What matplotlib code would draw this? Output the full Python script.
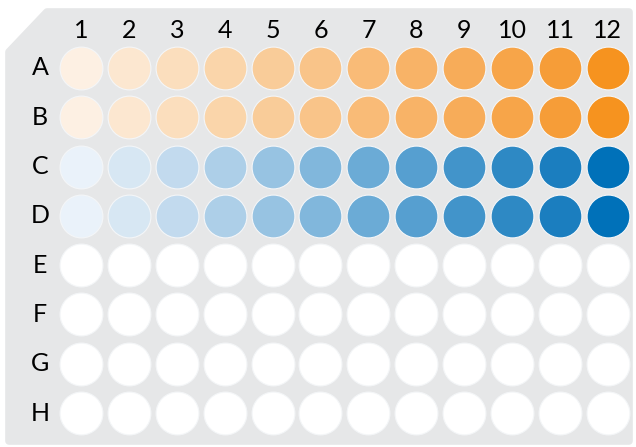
import matplotlib.pyplot as plt
from matplotlib.patches import Polygon

# plate layout
rows = ['A', 'B', 'C', 'D', 'E', 'F', 'G', 'H']
cols = list(range(1, 13))

# dilution series colours, column 1 -> 12
orange_series = ['#FDF0E3', '#FCE7D0', '#FBDEBD', '#FAD5AA', '#F9CC99', '#F9C489',
                 '#F9BB77', '#F8B367', '#F7AC59', '#F7A549', '#F69D38', '#F6931F']
blue_series = ['#EAF2FA', '#D7E7F3', '#C2DAEE', '#ADCFE8', '#97C3E2', '#81B7DC',
               '#6BABD6', '#569FD0', '#4294CA', '#2E89C4', '#1B7EBF', '#0071B9']
empty_color = '#FFFFFF'

# which series each row holds
row_series = {'A': orange_series, 'B': orange_series,
              'C': blue_series, 'D': blue_series}

fig = plt.figure(figsize=(6.36, 4.47), dpi=100)
ax = fig.add_axes([0, 0, 1, 1])
ax.set_xlim(-0.691, 12.587)
ax.set_ylim(7.688, -1.379)
ax.axis('off')

# plate body (axes fraction), chamfered top-left corner
W, H = 636.0, 447.0
pts = [(9, 52), (47, 12), (629, 12), (629, 441), (9, 441)]
plate = Polygon([(x / W, 1 - y / H) for x, y in pts], closed=True,
                transform=ax.transAxes, facecolor='#E6E7E8', edgecolor='#E6E7E8',
                linewidth=5.5, joinstyle='round', zorder=0)
ax.add_patch(plate)

# wells
for r, row in enumerate(rows):
    series = row_series.get(row)
    for c in cols:
        color = series[c - 1] if series else empty_color
        ax.scatter(c, r, s=950, color=color, edgecolors='#F4F6F8',
                   linewidths=0.8, zorder=2)

label_font = dict(fontsize=18, family='Lato', color='#000000')
for c in cols:
    ax.text(c, -0.77, str(c), ha='center', va='center', **label_font)
for r, row in enumerate(rows):
    ax.text(0.144, r, row, ha='center', va='center', **label_font)

fig.savefig('out.png', dpi=100, facecolor='white')
